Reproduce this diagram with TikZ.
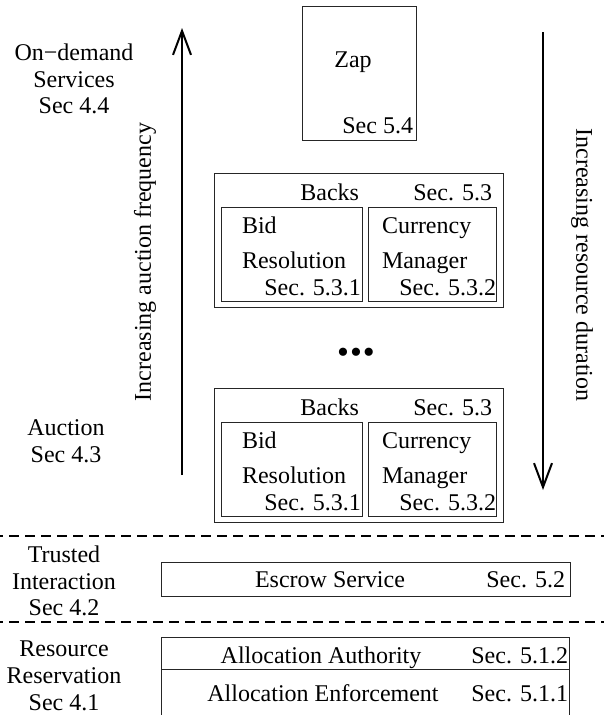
\documentclass[tikz,border=0pt]{standalone}
\usepackage{fontspec}
\setmainfont{Liberation Serif}
\usetikzlibrary{arrows.meta}
\begin{document}
\begin{tikzpicture}[x=1pt,y=-1pt,
  every node/.style={font=\fontsize{24}{27}\selectfont, inner sep=0pt, outer sep=0pt},
  box/.style={draw=black!85, line width=1pt, rectangle},
  txt/.style={anchor=base},
  txtl/.style={anchor=base west},
  txtr/.style={anchor=base east},
  bigarrow/.style={line width=2.2pt, -{Straight Barb[length=24pt,width=18pt,line width=2pt]}},
  sep/.style={line width=2.4pt, dash pattern=on 10pt off 6pt, dash phase=-9pt}
]
\path[use as bounding box, clip] (0,0) rectangle (604,715);
\fill[white] (0,0) rectangle (604,715);

% Zap
\node[box, minimum width=114pt, minimum height=134pt, anchor=north west] (zap) at (302,6) {};
\node[txt] (zapt) at (353,67) {Zap};
\node[txtr] (zaps) at (413,133) {Sec 5.4};

% Backs boxes
\foreach \k/\dy in {1/0, 2/215} {
  \node[box, minimum width=289pt, minimum height=134pt, anchor=north west] (backs\k) at (214,173+\dy) {};
  \node[box, minimum width=141pt, minimum height=94pt, anchor=north west] (bid\k) at (221,207+\dy) {};
  \node[box, minimum width=128pt, minimum height=94pt, anchor=north west] (cur\k) at (368,207+\dy) {};
  \node[txtr] (backst\k) at (359,200+\dy) {Backs};
  \node[txtr] (backss\k) at (492,200+\dy) {Sec. 5.3};
  \node[txtl] (bida\k) at (242,233+\dy) {Bid};
  \node[txtl] (bidb\k) at (242,268+\dy) {Resolution};
  \node[txtr] (bids\k) at (361,295+\dy) {Sec. 5.3.1};
  \node[txtl] (cura\k) at (382,233+\dy) {Currency};
  \node[txtl] (curb\k) at (382,268+\dy) {Manager};
  \node[txtr] (curs\k) at (496,295+\dy) {Sec. 5.3.2};
}

% dots
\node[anchor=center, font=\fontsize{34}{34}\selectfont] (dots) at (356,356) {•\hspace{1pt}•\hspace{1pt}•};

% Escrow
\node[box, minimum width=409pt, minimum height=34pt, anchor=north west] (escrow) at (161,562) {};
\node[txt] (escrowt) at (330,587) {Escrow Service};
\node[txtr] (escrows) at (565,587) {Sec. 5.2};

% Allocation
\node[box, minimum width=408pt, minimum height=32pt, anchor=north west] (auth) at (161,637) {};
\node[box, minimum width=408pt, minimum height=60pt, anchor=north west] (enf) at (161,669) {};
\node[txt] (autht) at (321,663) {Allocation Authority};
\node[txtr] (auths) at (568,663) {Sec. 5.1.2};
\node[txt] (enft) at (323,701) {Allocation Enforcement};
\node[txtr] (enfs) at (568,701) {Sec. 5.1.1};

% left labels
\node[txt] (od1) at (74,60) {On−demand};
\node[txt] (od2) at (74,87) {Services};
\node[txt] (od3) at (74,113) {Sec 4.4};
\node[txt] (au1) at (66,435) {Auction};
\node[txt] (au2) at (66,462) {Sec 4.3};
\node[txt] (ti1) at (64,562) {Trusted};
\node[txt] (ti2) at (64,589) {Interaction};
\node[txt] (ti3) at (64,615) {Sec 4.2};
\node[txt] (rr1) at (64,656) {Resource};
\node[txt] (rr2) at (64,683) {Reservation};
\node[txt] (rr3) at (64,710) {Sec 4.1};

% arrows
\coordinate (upS) at (182,475);
\coordinate (upE) at (182,28);
\coordinate (dnS) at (543,32);
\coordinate (dnE) at (543,490);
\draw[bigarrow] (upS) -- (upE);
\draw[bigarrow] (dnS) -- (dnE);
\node[rotate=90, anchor=center] (freq) at (145,262) {Increasing auction frequency};
\node[rotate=-90, anchor=center] (dur) at (582,265) {Increasing resource duration};

% separators
\coordinate (s1a) at (0,536);
\coordinate (s1b) at (604,536);
\coordinate (s2a) at (0,622);
\coordinate (s2b) at (604,622);
\draw[sep] (s1a) -- (s1b);
\draw[sep] (s2a) -- (s2b);
\end{tikzpicture}
\end{document}
